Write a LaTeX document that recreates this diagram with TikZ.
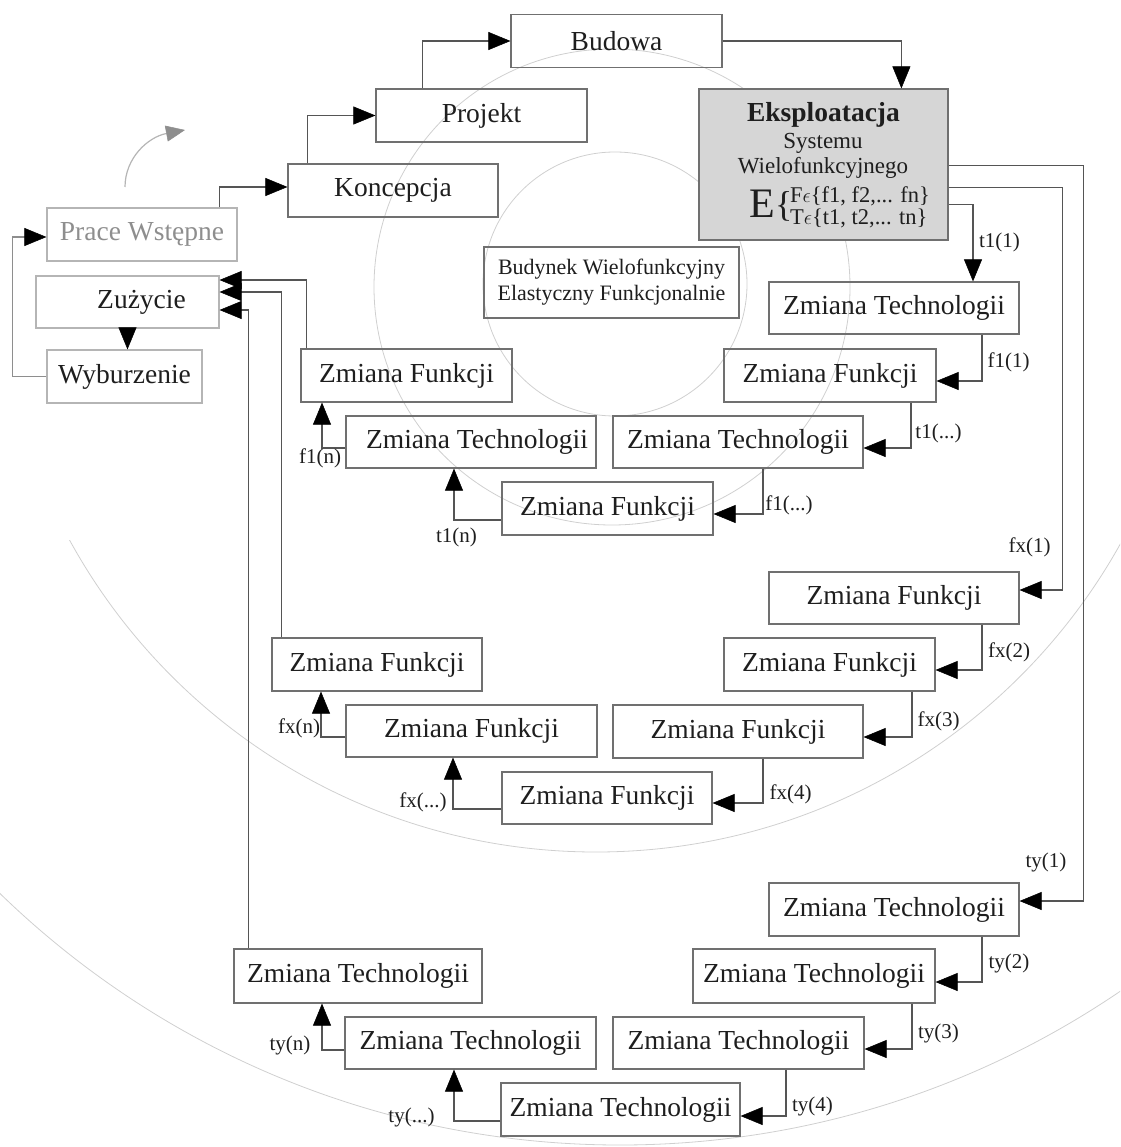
\documentclass[tikz,border=0pt]{standalone}
\usepackage{fontspec}
\setmainfont{Liberation Serif}
\usetikzlibrary{arrows.meta}
\definecolor{boxc}{HTML}{707070}
\definecolor{lightc}{HTML}{B5B5B5}
\definecolor{ln}{HTML}{555555}
\definecolor{txt}{HTML}{1E1E1E}
\definecolor{circc}{HTML}{CFCFCF}
\definecolor{gtxt}{HTML}{8E8E8E}
\definecolor{ekfill}{HTML}{D6D6D6}
\tikzset{
  myhead/.tip={Triangle[length=22pt,width=18pt,color=black,line width=0.5pt]},
  ghead/.tip={Triangle[length=19pt,width=16pt,color=gtxt,line width=0.5pt]}
}
\begin{document}
\begin{tikzpicture}[x=1pt,y=-1pt,
  bx/.style={draw=boxc,line width=1.2pt,rectangle,inner sep=0pt,minimum height=53pt,font=\fontsize{27.5}{30}\selectfont,text=txt},
  lbx/.style={bx,draw=lightc},
  arr/.style={draw=ln,line width=1.3pt,-myhead},
  garr/.style={draw=lightc,line width=1.2pt,-ghead},
  lab/.style={font=\fontsize{21}{24}\selectfont,inner sep=0pt,text=txt},
  circ/.style={draw=circc,line width=0.8pt}]
\useasboundingbox (0,0) rectangle (1120,1147);
% background circles
\begin{scope}
  \clip (0,0) rectangle (1120,1147);
  \draw[circ] (615,284) circle[radius=132pt];
  \draw[circ] (612,287) circle[radius=238pt];
  \draw[circ] (620,255) circle[radius=890pt];
  \begin{scope}
    \clip (0,540) rectangle (1120,1147);
    \draw[circ] (596,252) circle[radius=600pt];
  \end{scope}
\end{scope}
% main stages
\node[bx,minimum width=211pt] (bud) at (616.5,41) {Budowa};
\node[bx,minimum width=211pt] (proj) at (481.5,115.5) {Projekt};
\node[bx,minimum width=210pt] (konc) at (393,190.5) {Koncepcja};
\node[lbx,minimum width=190pt,text=gtxt] (prace) at (142,234.5) {Prace Wstępne};
\node[lbx,minimum width=183pt,minimum height=52pt] (zuz) at (127.5,302) {\hspace*{28pt}Zużycie};
\node[lbx,minimum width=155pt] (wyb) at (124.5,376.5) {Wyburzenie};
\node[bx,fill=ekfill,minimum width=249pt,minimum height=151pt] (eksp) at (823.5,164.5) {};
\node[inner sep=0pt,font=\fontsize{27.5}{30}\selectfont\bfseries,text=txt] (ek1) at (823.5,115) {Eksploatacja};
\node[inner sep=0pt,font=\fontsize{23}{26}\selectfont,text=txt] (ek2) at (823,143) {Systemu};
\node[inner sep=0pt,font=\fontsize{23}{26}\selectfont,text=txt] (ek3) at (823,168) {Wielofunkcyjnego};
\node[inner sep=0pt,anchor=base east,font=\fontsize{42}{42}\selectfont,text=txt] (ekE) at (775,218) {E};
\node[inner sep=0pt,anchor=west,font=\fontsize{36}{36}\selectfont,text=txt] (ekB) at (775,206) {\{};
\node[inner sep=0pt,anchor=west,font=\fontsize{22.5}{24}\selectfont,text=txt] (ekF) at (790,196) {F$\epsilon$\{f1, f2,... fn\}};
\node[inner sep=0pt,anchor=west,font=\fontsize{22.5}{24}\selectfont,text=txt] (ekT) at (790,218) {T$\epsilon$\{t1, t2,... tn\}};
\node[bx,minimum width=255pt,minimum height=71pt,align=center,font=\fontsize{22}{26}\selectfont] (bwf) at (611.5,282.5) {Budynek Wielofunkcyjny\\Elastyczny Funkcjonalnie};
% t1 / f1 chain
\node[bx,minimum width=250pt,minimum height=52pt] (t1) at (894,308) {Zmiana Technologii};
\node[bx,minimum width=212pt] (f1a) at (830,375.5) {Zmiana Funkcji};
\node[bx,minimum width=250pt,minimum height=52pt] (t1b) at (738,442) {Zmiana Technologii};
\node[bx,minimum width=211pt] (f1b) at (607.5,508.5) {Zmiana Funkcji};
\node[bx,minimum width=250pt,minimum height=52pt] (t1n) at (471,442) {\hspace*{12pt}Zmiana Technologii};
\node[bx,minimum width=211pt] (f1n) at (406.5,375.5) {Zmiana Funkcji};
% fx chain
\node[bx,minimum width=250pt,minimum height=52pt] (fx1) at (894,598) {Zmiana Funkcji};
\node[bx,minimum width=211pt] (fx2) at (829.5,664.5) {Zmiana Funkcji};
\node[bx,minimum width=250pt] (fx3) at (738,731.5) {Zmiana Funkcji};
\node[bx,minimum width=210pt,minimum height=52pt] (fx4) at (607,798) {Zmiana Funkcji};
\node[bx,minimum width=251pt,minimum height=52pt] (fxa) at (471.5,731) {Zmiana Funkcji};
\node[bx,minimum width=210pt] (fxn) at (377,664.5) {Zmiana Funkcji};
% ty chain
\node[bx,minimum width=250pt] (ty1) at (894,909.5) {Zmiana Technologii};
\node[bx,minimum width=242pt,minimum height=54pt] (ty2) at (814,976) {Zmiana Technologii};
\node[bx,minimum width=251pt,minimum height=52pt] (ty3) at (738.5,1043) {Zmiana Technologii};
\node[bx,minimum width=239pt] (ty4) at (620.5,1109.5) {Zmiana Technologii};
\node[bx,minimum width=251pt,minimum height=52pt] (tya) at (470.5,1043) {Zmiana Technologii};
\node[bx,minimum width=248pt,minimum height=54pt] (tyn) at (358,976) {Zmiana Technologii};
% connectors: life cycle
\draw[arr] ([xshift=20pt]konc.north west) |- (proj.west);
\draw[arr] ([xshift=-18pt]prace.north east) |- ([yshift=3.5pt]konc.west);
\draw[arr] ([xshift=47pt]proj.north west) |- (bud.west);
\draw[arr] (bud.east) -| ([xshift=203pt]eksp.north west);
\draw[arr] (zuz.south) -- (zuz.south |- wyb.north);
\draw[arr,draw=gtxt] (wyb.west) -- ([xshift=-34pt]wyb.west) |- ([yshift=-2.5pt]prace.west);
\draw[garr] (125,187) .. controls (125,158) and (148,137) .. (185,130);
% from exploitation
\draw[arr] ([yshift=36pt]eksp.south east) -| ([xshift=79pt]t1.north);
\draw[arr] ([yshift=53pt]eksp.south east) -| ([xshift=43pt,yshift=8pt]fx1.east) -- ([yshift=8pt]fx1.east);
\draw[arr] ([yshift=75pt]eksp.south east) -| ([xshift=64pt,yshift=8.5pt]ty1.east) -- ([yshift=8.5pt]ty1.east);
% t1/f1 chain
\draw[arr] ([xshift=88pt]t1.south) |- ([yshift=-5.5pt]f1a.east);
\draw[arr] ([xshift=81pt]f1a.south) |- ([yshift=-6pt]t1b.east);
\draw[arr] ([xshift=25pt]t1b.south) |- ([yshift=-5.5pt]f1b.east);
\draw[arr] ([yshift=-11.5pt]f1b.west) -| ([xshift=-17pt]t1n.south);
\draw[arr] ([yshift=-6pt]t1n.west) -| ([xshift=-84.5pt]f1n.south);
\draw[arr] ([xshift=6pt]f1n.north west) |- ([yshift=22pt]zuz.east);
% fx chain
\draw[arr] ([xshift=88pt]fx1.south) |- ([yshift=-5.5pt]fx2.east);
\draw[arr] ([xshift=82.5pt]fx2.south) |- ([yshift=-5.5pt]fx3.east);
\draw[arr] ([xshift=25pt]fx3.south) |- ([yshift=-5pt]fx4.east);
\draw[arr] ([yshift=-11pt]fx4.west) -| ([xshift=-18.5pt]fxa.south);
\draw[arr] ([yshift=-6pt]fxa.west) -| ([xshift=-56pt]fxn.south);
\draw[arr] ([xshift=10pt]fxn.north west) |- ([yshift=10pt]zuz.east);
% ty chain
\draw[arr] ([xshift=88pt]ty1.south) |- ([yshift=-6pt]ty2.east);
\draw[arr] ([xshift=98pt]ty2.south) |- ([yshift=-6pt]ty3.east);
\draw[arr] ([xshift=47.5pt]ty3.south) |- ([yshift=-6.5pt]ty4.east);
\draw[arr] ([yshift=-11.5pt]ty4.west) -| ([xshift=-16.5pt]tya.south);
\draw[arr] ([yshift=-7pt]tya.west) -| ([xshift=-36pt]tyn.south);
\draw[arr] ([xshift=15pt]tyn.north west) |- ([yshift=-8pt]zuz.east);
% labels
\node[lab] (lt11) at (999.5,242) {t1(1)};
\node[lab] (lf11) at (1008.5,362) {f1(1)};
\node[lab] (lt1d) at (938.5,433) {t1(...)};
\node[lab] (lf1d) at (789,505) {f1(...)};
\node[lab] (lt1n) at (456.5,537) {t1(n)};
\node[lab] (lf1n) at (320,458) {f1(n)};
\node[lab] (lfx1) at (1029.5,547) {fx(1)};
\node[lab] (lfx2) at (1009,652) {fx(2)};
\node[lab] (lfx3) at (938.5,721) {fx(3)};
\node[lab] (lfx4) at (790.5,794) {fx(4)};
\node[lab] (lfxd) at (423,802) {fx(...)};
\node[lab] (lfxn) at (299,728) {fx(n)};
\node[lab] (lty1) at (1046,862) {ty(1)};
\node[lab] (lty2) at (1009,963) {ty(2)};
\node[lab] (lty3) at (938.5,1033) {ty(3)};
\node[lab] (lty4) at (812.5,1106) {ty(4)};
\node[lab] (ltyd) at (411.5,1117) {ty(...)};
\node[lab] (ltyn) at (290,1045) {ty(n)};
\end{tikzpicture}
\end{document}
